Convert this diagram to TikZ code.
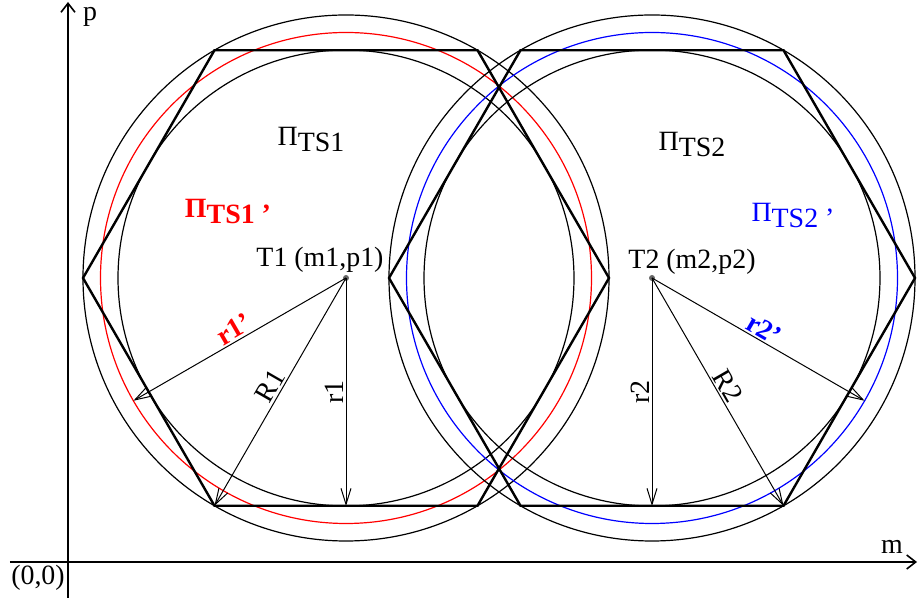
\documentclass[tikz,border=0pt]{standalone}
\usepackage{fontspec}
\setmainfont{Liberation Serif}
\usepackage{tikz}
\usetikzlibrary{arrows.meta, calc}

\begin{document}
\begin{tikzpicture}[
  x=1bp, y=1bp,
  every node/.style={font=\fontsize{28}{32}\selectfont, inner sep=2bp},
  boldlab/.style={font=\fontsize{28}{32}\selectfont\bfseries},
  axis/.style={line width=2.2bp, -{Straight Barb[length=9bp, width=14bp, line width=1.6bp]}},
  hexa/.style={line width=2.4bp, line join=miter},
  ring/.style={line width=1.2bp},
  radius/.style={line width=1bp, -{Straight Barb[length=16bp, width=10bp]}},
  dot/.style={circle, fill=black!60, inner sep=0pt, minimum size=6bp},
]
\useasboundingbox (-68,-43) rectangle (851,562);

% axes
\coordinate (ybot) at (0,-36);
\coordinate (ytop) at (0,560);
\coordinate (xleft) at (-58,0);
\coordinate (xright) at (849,0);
\draw[axis] (ybot) -- (ytop);
\draw[axis] (xleft) -- (xright);
\node (plab) at (22,545) {p};
\node (mlab) at (824,15) {m};
\node (olab) at (-30,-16) {(0,0)};

% centres of the two areas
\node[dot] (T1) at (278,284) {};
\node[dot] (T2) at (584,284) {};

% circles
\draw[ring] (T1) circle (263);
\draw[ring] (T1) circle (228);
\draw[ring, red] (T1) circle (245.5);
\draw[ring] (T2) circle (263);
\draw[ring] (T2) circle (228);
\draw[ring, blue] (T2) circle (245.5);

% hexagons
\foreach \a in {0,60,...,300} {
  \coordinate (A\a) at ($(T1)+(\a:263)$);
  \coordinate (B\a) at ($(T2)+(\a:263)$);
}
\draw[hexa] (A0) -- (A60) -- (A120) -- (A180) -- (A240) -- (A300) -- cycle;
\draw[hexa] (B0) -- (B60) -- (B120) -- (B180) -- (B240) -- (B300) -- cycle;

% radii
\coordinate (r1end) at ($(T1)+(270:228)$);
\coordinate (q1end) at ($(T1)+(210:245.5)$);
\coordinate (r2end) at ($(T2)+(270:228)$);
\coordinate (q2end) at ($(T2)+(330:245.5)$);
\draw[radius] (T1.center) -- node[rotate=90, anchor=south] {r1} (r1end);
\draw[radius] (T1.center) -- node[rotate=60, anchor=south] {R1} (A240);
\draw[radius] (T1.center) -- node[rotate=30, anchor=south, boldlab, red] {r1'} (q1end);
\draw[radius] (T2.center) -- node[rotate=90, anchor=south] {r2} (r2end);
\draw[radius] (T2.center) -- node[rotate=-60, anchor=south] {R2} (B300);
\draw[radius] (T2.center) -- node[rotate=-30, anchor=south, boldlab, blue] {r2'} (q2end);

% labels
\node (t1lab) at ($(T1)+(-26,18)$) {T1 (m1,p1)};
\node (t2lab) at ($(T2)+(40,16)$) {T2 (m2,p2)};
\node (pi1) at ($(T1)+(-35,138)$) {Π\raisebox{-6bp}{TS1}};
\node (pi2) at ($(T2)+(40,133)$) {Π\raisebox{-6bp}{TS2}};
\node[boldlab, red] (pi1p) at ($(T1)+(-118,66)$) {Π\raisebox{-6bp}{TS1 '}};
\node[blue] (pi2p) at ($(T2)+(141,62)$) {Π\raisebox{-6bp}{TS2 '}};
\end{tikzpicture}
\end{document}
